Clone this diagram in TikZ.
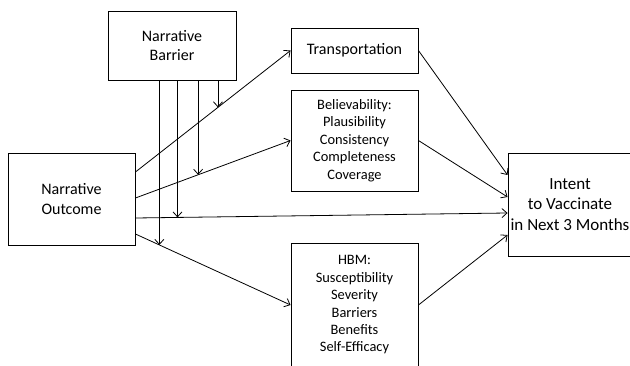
\documentclass[tikz,border=0pt]{standalone}
\usepackage{fontspec}
\setmainfont{Carlito}
\usetikzlibrary{arrows.meta, positioning, calc}

\begin{document}
\begin{tikzpicture}[x=1pt, y=-1pt,
    box/.style={draw, line width=0.9pt, minimum width=127pt, align=center,
                inner sep=2pt, font=\fontsize{16}{19.5}\selectfont},
    list/.style={box, font=\fontsize{14.4}{17.4}\selectfont},
    arr/.style={-{Straight Barb[length=5pt, width=9pt]}, line width=0.8pt}
  ]
    \useasboundingbox (0,0) rectangle (630,366);
    \node[box, minimum width=128pt, minimum height=69pt] (barrier) at (172,45.5)
      {Narrative\\Barrier};
    \node[box, minimum height=92pt] (outcome) at (71.5,199)
      {Narrative\\Outcome};
    \node[box, minimum height=45pt] (trans) at (354.5,50.5) {Transportation};
    \node[list, minimum height=101pt] (belief) at (354.5,140.5)
      {Believability:\\Plausibility\\Consistency\\Completeness\\Coverage};
    \node[list, minimum height=124pt] (hbm) at (354.5,305)
      {HBM:\\Susceptibility\\Severity\\Barriers\\Benefits\\Self-Efficacy};
    \node[box, minimum width=124pt, minimum height=103pt,
          font=\fontsize{17}{20.5}\selectfont] (intent) at (570,204.5)
      {Intent\\to Vaccinate\\in Next 3 Months};
    % paths out of the outcome box
    \draw[arr] ([yshift=27pt]outcome.east) -- coordinate[pos=0.532] (m1) (trans.west);
    \draw[arr] ([yshift=1pt]outcome.east) -- coordinate[pos=0.404] (m2) (belief.west);
    \draw[arr] ([yshift=-19pt]outcome.east) -- coordinate[pos=0.113] (m3)
      ([yshift=-8.5pt]intent.west);
    \draw[arr] ([yshift=-35pt]outcome.east) -- coordinate[pos=0.154] (m4) (hbm.west);
    % moderation by the barrier
    \draw[arr] (barrier.south -| m1) -- (m1);
    \draw[arr] (barrier.south -| m2) -- (m2);
    \draw[arr] (barrier.south -| m3) -- (m3);
    \draw[arr] (barrier.south -| m4) -- (m4);
    % mediators into intent
    \draw[arr] (trans.east) -- ([yshift=29.5pt]intent.west);
    \draw[arr] (belief.east) -- ([yshift=7.5pt]intent.west);
    \draw[arr] (hbm.east) -- ([yshift=-30.5pt]intent.west);
  \end{tikzpicture}
\end{document}
